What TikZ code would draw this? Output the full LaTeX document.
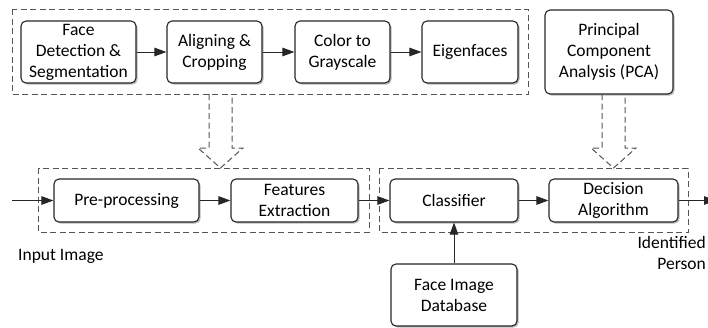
\documentclass[tikz,border=0pt]{standalone}
\usepackage{fontspec}
\setmainfont{Carlito}
\usepackage{xcolor}
\usetikzlibrary{positioning,shadows,arrows.meta}
\definecolor{edge}{HTML}{262626}
\definecolor{frame}{HTML}{555555}
\tikzset{
  Block/.style={
    draw=edge, line width=1.1pt,
    rounded corners=5pt, fill=white,
    align=center, inner sep=1pt,
    font=\fontsize{17.5}{21}\selectfont,
    drop shadow={shadow xshift=1.6pt, shadow yshift=-1.6pt, fill=black!45, opacity=0.6}
  },
  Group/.style={draw=frame, line width=1pt, dash pattern=on 6pt off 3.5pt},
  Flow/.style={draw=edge, line width=1pt, -{Triangle[length=12pt,width=8.5pt]}},
  Caption/.style={font=\fontsize{17.5}{21}\selectfont, inner sep=0pt}
}
\newcommand{\HollowDown}[3]{%
  % #1 = x of the shaft, #2 = top of the shaft, #3 = tip
  \draw[Group, line join=miter]
    ({#1-11.5},#2) -- ({#1-11.5},{#3-20}) -- ({#1-22.5},{#3-20}) -- (#1,#3)
    -- ({#1+22.5},{#3-20}) -- ({#1+11.5},{#3-20}) -- ({#1+11.5},#2);
}

\begin{document}
\begin{tikzpicture}[x=1pt, y=-1pt, line cap=butt]
  \useasboundingbox (0,0) rectangle (708,327);

  % dashed frames
  \draw[Group] (12,9) rectangle (528,94);
  \draw[Group] (38,168) rectangle (369,232);
  \draw[Group] (379,168) rectangle (688,232);

  % preparation steps
  \node[Block, minimum width=115pt, minimum height=62pt] (detect) at (78.5,52) {Face\\Detection \&\\Segmentation};
  \node[Block, minimum width=95pt, minimum height=62pt] (align) at (214.5,52) {Aligning \&\\Cropping};
  \node[Block, minimum width=95pt, minimum height=62pt] (gray) at (342.5,52) {Color to\\Grayscale};
  \node[Block, minimum width=96pt, minimum height=62pt] (eigen) at (470,52) {Eigenfaces};
  \node[Block, minimum width=128pt, minimum height=84pt] (pca) at (609,52) {Principal\\Component\\Analysis (PCA)};

  % main pipeline
  \node[Block, minimum width=145pt, minimum height=43pt] (pre) at (126.5,200.5) {Pre-processing};
  \node[Block, minimum width=127pt, minimum height=43pt] (feat) at (294.5,200.5) {Features\\Extraction};
  \node[Block, minimum width=128pt, minimum height=43pt] (class) at (454,200.5) {Classifier};
  \node[Block, minimum width=129pt, minimum height=43pt] (dec) at (613.5,200.5) {Decision\\Algorithm};
  \node[Block, minimum width=126pt, minimum height=62pt] (db) at (454,295) {Face Image\\Database};

  \coordinate (in) at (12,200.5);
  \coordinate (out) at (716,200.5);

  % connectors
  \draw[Flow] (detect) -- (align);
  \draw[Flow] (align) -- (gray);
  \draw[Flow] (gray) -- (eigen);
  \draw[Flow] (in) -- (pre);
  \draw[Flow] (pre) -- (feat);
  \draw[Flow] (feat) -- (class);
  \draw[Flow] (class) -- (dec);
  \draw[Flow] (dec) -- (out);
  \draw[Flow] (db) -- (class);

  % hollow arrows into the pipeline
  \HollowDown{220.5}{94}{168}
  \HollowDown{613.5}{94}{168}

  \node[Caption, anchor=base west] (inlabel) at (18,260) {Input Image};
  \node[Caption, align=right, anchor=north east] (outlabel) at (706,236) {Identified\\Person};
\end{tikzpicture}
\end{document}
